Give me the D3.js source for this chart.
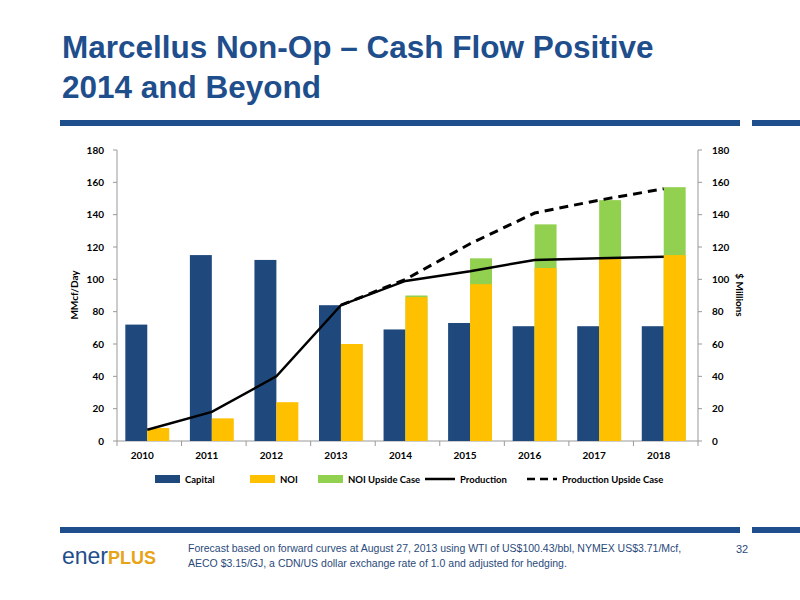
<!DOCTYPE html>
<html>
<head>
<meta charset="utf-8">
<script src="https://cdn.jsdelivr.net/npm/d3@7"></script>
<style>
body { margin: 0; background: #fff; }
text { font-family: Lato, "Open Sans", sans-serif; }
</style>
</head>
<body>
<script>
var years = ['2010','2011','2012','2013','2014','2015','2016','2017','2018'];
var capital = [72, 115, 112, 84, 69, 73, 71, 71, 71];
var noi = [8, 14, 24, 60, 89, 97, 107, 113, 115];
var noiUpside = [null, null, null, null, 90, 113, 134, 149, 157];
var production = [7, 18, 40, 84, 99, 105, 112, 113, 114];
var productionUpside = [null, null, null, 84, 100, 122, 141, 149, 156];
var ticks = [0, 20, 40, 60, 80, 100, 120, 140, 160, 180];

var navy = '#1f497d', gold = '#ffc000', green = '#92d050';

var svg = d3.select('body').append('svg').attr('width', 800).attr('height', 600);

// title
svg.append('text').attr('x', 62).attr('y', 58).text('Marcellus Non-Op \u2013 Cash Flow Positive')
    .style('font-family', 'Liberation Sans, Arial').style('font-weight', 'bold')
    .style('font-size', '31.5px').style('fill', '#1f4e8c');
svg.append('text').attr('x', 62).attr('y', 98).text('2014 and Beyond')
    .style('font-family', 'Liberation Sans, Arial').style('font-weight', 'bold')
    .style('font-size', '31.5px').style('fill', '#1f4e8c');
svg.append('rect').attr('x', 60).attr('y', 120).attr('width', 680).attr('height', 6).style('fill', '#1f4e8c');
svg.append('rect').attr('x', 752).attr('y', 120).attr('width', 48).attr('height', 6).style('fill', '#1f4e8c');
svg.append('rect').attr('x', 60).attr('y', 527).attr('width', 680).attr('height', 6).style('fill', '#1f4e8c');
svg.append('rect').attr('x', 752).attr('y', 527).attr('width', 48).attr('height', 6).style('fill', '#1f4e8c');

var x = d3.scaleBand().domain(years).range([117, 698]);
var y = d3.scaleLinear().domain([0, 180]).range([441, 150]);
var bw = x.step() * 0.34;

// axes
svg.append('line').attr('x1', 117).attr('x2', 117).attr('y1', 150).attr('y2', 441).style('stroke', '#999');
svg.append('line').attr('x1', 698).attr('x2', 698).attr('y1', 150).attr('y2', 441).style('stroke', '#999');
svg.append('line').attr('x1', 117).attr('x2', 698).attr('y1', 441).attr('y2', 441).style('stroke', '#999');
svg.selectAll('.tl').data(ticks).enter().append('line')
    .attr('x1', 113).attr('x2', 117).attr('y1', y).attr('y2', y).style('stroke', '#999');
svg.selectAll('.tr').data(ticks).enter().append('line')
    .attr('x1', 698).attr('x2', 702).attr('y1', y).attr('y2', y).style('stroke', '#999');
svg.selectAll('.tb').data(years.concat(['end'])).enter().append('line')
    .attr('x1', function(d, i) { return 117 + i * x.step(); })
    .attr('x2', function(d, i) { return 117 + i * x.step(); })
    .attr('y1', 441).attr('y2', 446).style('stroke', '#999');
svg.selectAll('.ll').data(ticks).enter().append('text')
    .attr('x', 104).attr('y', function(d) { return y(d) + 3.5; }).attr('text-anchor', 'end')
    .text(String).style('font-size', '10px').style('font-weight', 'bold');
svg.selectAll('.lr').data(ticks).enter().append('text')
    .attr('x', 712).attr('y', function(d) { return y(d) + 3.5; })
    .text(String).style('font-size', '10px').style('font-weight', 'bold');
svg.selectAll('.lx').data(years).enter().append('text')
    .attr('x', function(d) { return x(d) + x.step() / 2 - 7; }).attr('y', 459).attr('text-anchor', 'middle')
    .text(String).style('font-size', '10px').style('font-weight', 'bold');
svg.append('text').attr('transform', 'translate(78,295) rotate(-90)').attr('text-anchor', 'middle')
    .text('MMcf/Day').style('font-size', '10px').style('font-weight', 'bold');
svg.append('text').attr('transform', 'translate(736,295) rotate(90)').attr('text-anchor', 'middle')
    .text('$ Millions').style('font-size', '10px').style('font-weight', 'bold');

function cx(i) { return x(years[i]) + x.step() / 2 - 2; }

// bars
svg.selectAll('.cap').data(capital).enter().append('rect')
    .attr('x', function(d, i) { return cx(i) - bw; }).attr('width', bw)
    .attr('y', y).attr('height', function(d) { return 441 - y(d); }).style('fill', navy);
svg.selectAll('.up').data(noiUpside).enter().filter(function(d) { return d != null; }).append('rect')
    .attr('x', function(d) { return cx(noiUpside.indexOf(d)); }).attr('width', bw)
    .attr('y', y).attr('height', function(d) { return 441 - y(d); }).style('fill', green);
svg.selectAll('.noi').data(noi).enter().append('rect')
    .attr('x', function(d, i) { return cx(i); }).attr('width', bw)
    .attr('y', y).attr('height', function(d) { return 441 - y(d); }).style('fill', gold);

// lines
var line = d3.line().defined(function(d) { return d != null; })
    .x(function(d, i) { return cx(i); }).y(function(d) { return y(d); });
svg.append('path').datum(productionUpside).attr('d', line)
    .style('fill', 'none').style('stroke', '#000').style('stroke-width', 3).style('stroke-dasharray', '9,6');
svg.append('path').datum(production).attr('d', line)
    .style('fill', 'none').style('stroke', '#000').style('stroke-width', 2.5);

// legend
var legend = [
  {name: 'Capital', type: 'rect', c: navy, x: 155},
  {name: 'NOI', type: 'rect', c: gold, x: 250},
  {name: 'NOI Upside Case', type: 'rect', c: green, x: 318},
  {name: 'Production', type: 'line', x: 425},
  {name: 'Production Upside Case', type: 'dash', x: 527}
];
legend.forEach(function(l) {
  if (l.type == 'rect') {
    svg.append('rect').attr('x', l.x).attr('y', 475).attr('width', 25).attr('height', 8).style('fill', l.c);
  } else {
    svg.append('line').attr('x1', l.x).attr('x2', l.x + 30).attr('y1', 479).attr('y2', 479)
        .style('stroke', '#000').style('stroke-width', 2.5)
        .style('stroke-dasharray', l.type == 'dash' ? '8,5' : null);
  }
  svg.append('text').attr('x', l.x + (l.type == 'rect' ? 30 : 35)).attr('y', 483).text(l.name)
      .style('font-size', '9.5px').style('font-weight', 'bold');
});

// footer
var logo = svg.append('text').attr('x', 62).attr('y', 564).style('font-size', '23px');
logo.append('tspan').text('ener').style('fill', '#1f4e8c').style('font-family', 'Liberation Sans, Arial');
logo.append('tspan').text('PLUS').style('fill', '#e8a317').style('font-weight', 'bold')
    .style('font-size', '18px').style('font-family', 'Liberation Sans, Arial');
svg.append('text').attr('x', 188).attr('y', 552)
    .text('Forecast based on forward curves at August 27, 2013 using WTI of US$100.43/bbl, NYMEX US$3.71/Mcf,')
    .style('font-family', 'Liberation Sans Narrow, Liberation Sans').style('font-size', '10.5px').style('fill', '#2a4a7a');
svg.append('text').attr('x', 188).attr('y', 567)
    .text('AECO $3.15/GJ, a CDN/US dollar exchange rate of 1.0 and adjusted for hedging.')
    .style('font-family', 'Liberation Sans Narrow, Liberation Sans').style('font-size', '10.5px').style('fill', '#2a4a7a');
svg.append('text').attr('x', 736).attr('y', 553).text('32')
    .style('font-family', 'Liberation Sans, Arial').style('font-size', '11px').style('fill', '#2a4a7a');
</script>
</body>
</html>
